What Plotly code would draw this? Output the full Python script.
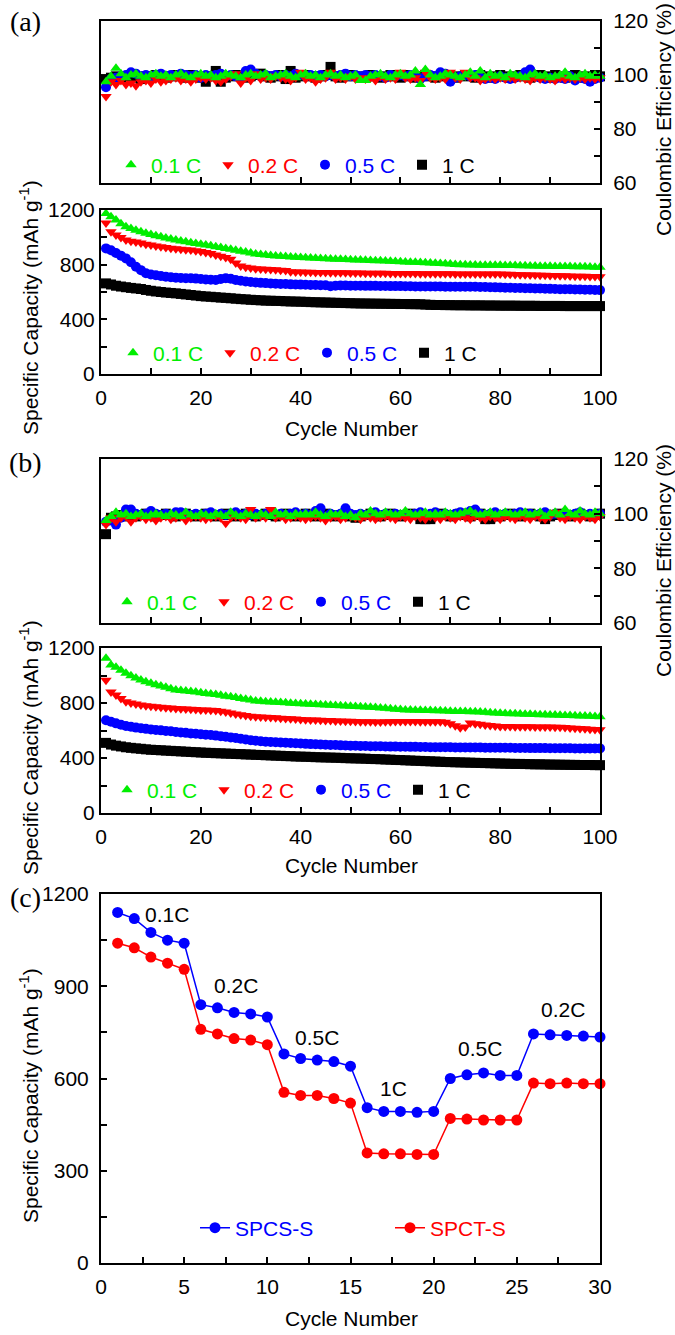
import plotly.graph_objects as go

# ---- data ----
cycles = list(range(1, 101))
cycles_rate = list(range(1, 31))

rates = ['0.1 C', '0.2 C', '0.5 C', '1 C']

# (a) coulombic efficiency (%)
ce_a_01 = [97.5, 99.5, 102.5, 100.5, 99.0, 100.0, 100.5, 99.5, 99.0, 100.0,
           100.5, 99.5, 100.0, 99.0, 100.0, 100.5, 99.5, 99.0, 100.0, 100.5,
           99.5, 100.0, 99.0, 99.5, 100.5, 100.0, 99.5, 99.0, 100.0, 100.5,
           99.5, 100.0, 100.5, 99.0, 99.5, 100.0, 100.5, 99.5, 99.0, 100.0,
           100.5, 99.5, 100.0, 99.0, 100.0, 100.5, 99.5, 100.0, 99.0, 99.5,
           100.0, 98.0, 98.0, 99.5, 100.0, 100.5, 99.5, 99.0, 100.0, 100.5,
           99.5, 100.0, 101.5, 96.5, 102.0, 100.0, 99.0, 99.5, 100.5, 100.0,
           99.5, 99.0, 100.0, 101.0, 99.5, 101.5, 99.0, 100.5, 99.5, 100.0,
           99.0, 100.5, 100.0, 99.5, 99.0, 100.0, 100.5, 99.5, 100.0, 99.0,
           99.5, 100.0, 101.0, 99.5, 99.0, 100.0, 100.5, 99.5, 100.0, 99.5]
ce_a_02 = [92.0, 97.5, 96.5, 98.0, 96.5, 97.0, 96.0, 97.5, 98.0, 97.0,
           98.5, 97.5, 98.0, 98.5, 99.0, 98.0, 98.5, 97.5, 98.5, 99.0,
           98.5, 99.0, 98.0, 97.5, 98.5, 99.5, 100.5, 97.0, 99.0, 98.0,
           100.5, 98.5, 99.0, 98.5, 99.5, 99.0, 98.5, 98.0, 99.0, 101.0,
           98.5, 99.0, 97.5, 98.5, 99.0, 101.0, 98.5, 99.0, 98.5, 99.5,
           98.5, 99.0, 98.5, 99.0, 98.0, 99.5, 98.5, 99.0, 98.5, 101.0,
           99.0, 98.5, 99.0, 98.0, 101.0, 99.0, 98.5, 99.0, 98.5, 101.0,
           99.0, 98.5, 101.0, 99.0, 99.0, 98.0, 98.5, 99.0, 98.5, 99.0,
           98.5, 99.0, 98.5, 99.0, 98.5, 98.0, 99.0, 98.5, 99.0, 98.5,
           98.0, 99.0, 98.5, 99.0, 98.5, 99.0, 98.5, 99.0, 98.5, 99.0]
ce_a_05 = [95.5, 98.5, 99.0, 99.5, 100.0, 101.0, 100.5, 99.5, 100.0, 99.5,
           100.0, 100.5, 99.5, 100.0, 99.5, 100.5, 100.0, 99.5, 100.0, 99.0,
           100.0, 99.5, 100.0, 100.5, 99.5, 100.0, 99.5, 98.5, 101.5, 102.0,
           100.5, 99.5, 100.0, 99.5, 100.0, 99.5, 100.0, 99.5, 100.5, 100.0,
           99.5, 100.0, 99.5, 100.0, 99.5, 100.0, 99.5, 100.0, 100.5, 99.5,
           100.0, 99.5, 100.0, 99.5, 100.0, 99.5, 99.0, 100.0, 99.5, 100.0,
           99.5, 100.0, 99.5, 98.5, 99.5, 100.0, 99.5, 101.0, 100.5, 97.5,
           99.0, 99.5, 100.0, 99.5, 100.0, 99.0, 98.5, 99.0, 98.5, 99.5,
           99.0, 98.5, 99.0, 99.5, 101.0, 102.0, 99.5, 99.0, 98.5, 99.0,
           98.5, 99.0, 98.5, 99.5, 98.0, 99.0, 98.5, 97.5, 98.5, 99.0]
ce_a_1 = [98.5, 99.0, 99.5, 99.0, 99.5, 100.0, 99.0, 98.5, 99.5, 99.0,
          100.0, 99.5, 99.0, 99.5, 100.0, 99.5, 99.0, 100.0, 99.5, 99.0,
          97.5, 99.5, 101.5, 97.5, 99.0, 99.5, 100.0, 99.5, 99.0, 99.5,
          100.0, 100.5, 99.5, 99.0, 99.5, 100.0, 98.5, 101.5, 99.0, 99.5,
          100.0, 99.5, 99.0, 99.5, 100.0, 103.0, 99.5, 99.0, 99.5, 100.0,
          99.5, 99.0, 99.5, 100.0, 99.5, 99.0, 99.5, 100.0, 99.5, 99.0,
          100.0, 99.5, 99.0, 99.5, 100.0, 99.5, 99.0, 99.5, 100.0, 99.5,
          99.0, 99.5, 100.0, 99.5, 99.0, 100.0, 99.5, 99.0, 99.5, 100.0,
          99.5, 99.0, 99.5, 100.0, 99.5, 99.0, 99.5, 100.0, 99.5, 99.0,
          100.0, 99.5, 99.0, 99.5, 100.0, 99.5, 99.0, 99.5, 100.0, 99.5]

# (a) specific capacity (mAh/g)
cap_a_01 = [1175, 1150, 1126, 1100, 1078, 1065, 1052, 1041, 1030, 1020,
            1012, 1004, 996, 988, 981, 974, 967, 960, 955, 949,
            943, 938, 932, 926, 919, 913, 906, 899, 892, 886,
            878, 874, 870, 867, 864, 861, 859, 857, 855, 853,
            851, 849, 847, 845, 843, 842, 840, 839, 838, 836,
            835, 834, 832, 831, 829, 828, 826, 825, 823, 821,
            820, 818, 817, 815, 814, 812, 810, 808, 806, 804,
            802, 800, 799, 797, 797, 796, 796, 795, 795, 795,
            794, 794, 793, 792, 792, 791, 790, 789, 789, 788,
            787, 787, 786, 786, 785, 784, 784, 783, 782, 781]
cap_a_02 = [1104, 1041, 1017, 998, 980, 972, 965, 958, 950, 943,
            936, 931, 926, 921, 917, 913, 910, 907, 902, 896,
            889, 882, 870, 862, 852, 840, 812, 790, 782, 776,
            771, 768, 766, 764, 762, 760, 758, 748, 747, 746,
            745, 744, 743, 742, 742, 741, 741, 740, 740, 739,
            739, 739, 738, 738, 737, 737, 737, 736, 736, 736,
            735, 735, 735, 734, 734, 734, 733, 733, 733, 733,
            732, 732, 732, 732, 732, 731, 731, 731, 731, 731,
            730, 729, 728, 727, 726, 725, 724, 723, 722, 721,
            720, 719, 718, 717, 716, 715, 715, 714, 713, 712]
cap_a_05 = [919, 905, 885, 866, 846, 818, 785, 760, 737, 728,
            722, 717, 712, 708, 705, 703, 701, 700, 698, 695,
            692, 690, 688, 695, 700, 697, 688, 682, 677, 673,
            670, 667, 665, 663, 661, 659, 658, 656, 655, 654,
            653, 652, 651, 650, 649, 642, 646, 647, 647, 646,
            646, 646, 645, 645, 645, 644, 644, 643, 643, 643,
            642, 642, 641, 641, 641, 640, 640, 640, 639, 639,
            639, 639, 639, 638, 638, 637, 636, 635, 634, 633,
            632, 631, 630, 629, 628, 627, 626, 625, 624, 623,
            622, 621, 620, 620, 619, 618, 617, 616, 615, 614]
cap_a_1 = [663, 655, 646, 640, 635, 630, 626, 622, 615, 609,
           604, 600, 596, 593, 590, 586, 582, 578, 574, 570,
           567, 565, 562, 559, 557, 554, 551, 548, 546, 543,
           541, 539, 537, 536, 535, 534, 532, 531, 530, 529,
           528, 526, 525, 524, 523, 522, 521, 520, 519, 518,
           517, 516, 516, 515, 515, 514, 514, 513, 513, 512,
           512, 511, 511, 510, 508, 506, 505, 505, 504, 504,
           503, 503, 503, 502, 502, 502, 501, 501, 501, 500,
           500, 500, 500, 499, 499, 499, 499, 498, 498, 498,
           498, 498, 497, 497, 497, 497, 497, 497, 497, 497]

# (b) coulombic efficiency (%)
ce_b_01 = [97.5, 99.0, 100.5, 99.5, 100.0, 99.0, 99.5, 100.0, 99.0, 99.5,
           100.0, 99.5, 99.0, 100.0, 99.5, 99.0, 100.5, 99.5, 99.0, 100.0,
           99.5, 99.0, 100.0, 99.5, 99.0, 100.5, 99.5, 99.0, 100.0, 99.5,
           99.0, 100.0, 99.5, 99.0, 100.5, 99.5, 100.0, 99.0, 100.0, 99.5,
           100.0, 99.5, 100.5, 99.5, 99.0, 100.0, 99.5, 100.0, 99.0, 99.5,
           98.5, 100.0, 99.5, 101.0, 100.0, 99.5, 100.5, 100.0, 99.5, 100.0,
           101.0, 100.0, 99.5, 100.0, 100.5, 99.5, 100.0, 99.5, 100.5, 100.0,
           99.5, 100.0, 100.5, 101.0, 100.0, 99.5, 100.0, 100.5, 99.5, 100.0,
           100.5, 100.0, 99.5, 100.0, 100.5, 99.5, 100.0, 100.5, 99.0, 100.0,
           100.5, 99.5, 101.5, 100.0, 99.5, 101.0, 100.0, 99.5, 100.5, 100.0]
ce_b_02 = [96.0, 98.5, 97.0, 98.5, 99.0, 97.0, 98.5, 99.0, 98.0, 98.5,
           97.5, 98.5, 99.0, 98.0, 98.5, 99.0, 97.5, 98.5, 99.0, 98.5,
           98.0, 98.5, 99.0, 98.5, 96.5, 98.5, 99.0, 98.5, 98.0, 101.5,
           98.5, 99.0, 98.5, 101.5, 98.5, 99.0, 98.0, 98.5, 99.0, 98.5,
           98.0, 98.5, 99.0, 98.5, 97.5, 98.5, 99.0, 98.0, 98.5, 99.0,
           98.5, 98.0, 99.0, 98.5, 98.0, 98.5, 99.0, 98.5, 98.0, 99.0,
           98.5, 98.0, 99.0, 98.5, 98.0, 99.0, 98.5, 98.0, 99.0, 98.5,
           98.0, 99.0, 98.5, 98.0, 99.0, 98.5, 98.0, 99.0, 98.5, 98.0,
           99.0, 98.5, 98.0, 99.0, 98.5, 98.0, 99.0, 98.5, 98.0, 99.0,
           100.5, 98.5, 98.0, 99.0, 98.5, 98.0, 99.0, 98.5, 98.0, 99.0]
ce_b_05 = [97.0, 97.5, 96.0, 98.5, 101.5, 101.5, 100.0, 99.5, 100.0, 101.0,
           100.0, 99.5, 100.0, 99.5, 100.5, 100.5, 100.0, 99.5, 100.0, 99.5,
           100.0, 100.5, 99.5, 100.0, 99.5, 100.0, 100.5, 99.5, 100.0, 99.5,
           100.0, 99.5, 100.0, 100.5, 99.5, 100.0, 99.5, 100.0, 100.5, 99.5,
           100.0, 99.5, 101.0, 102.0, 99.0, 100.0, 99.5, 100.0, 102.0, 100.0,
           99.5, 100.0, 99.5, 100.0, 100.5, 99.5, 100.0, 99.5, 100.0, 99.5,
           100.0, 99.5, 100.0, 100.5, 99.5, 100.0, 100.5, 99.5, 100.0, 99.5,
           100.0, 100.5, 99.5, 101.0, 101.5, 100.0, 99.5, 100.0, 100.5, 99.5,
           100.0, 99.5, 100.0, 100.5, 99.5, 100.0, 99.5, 100.0, 100.5, 99.5,
           100.0, 99.5, 100.0, 99.5, 100.0, 100.5, 99.5, 100.0, 99.5, 100.0]
ce_b_1 = [92.5, 98.5, 99.0, 99.5, 99.0, 99.5, 99.0, 99.5, 100.0, 99.5,
          99.0, 99.5, 100.0, 99.5, 99.0, 99.5, 100.0, 99.5, 99.0, 99.5,
          100.0, 99.5, 99.0, 99.5, 100.0, 99.5, 99.0, 99.5, 100.0, 99.5,
          99.0, 99.5, 100.0, 99.5, 99.0, 99.5, 100.0, 99.5, 99.0, 99.5,
          100.0, 99.5, 99.0, 99.5, 100.0, 99.5, 99.0, 99.5, 100.0, 99.0,
          98.5, 99.0, 99.5, 100.0, 99.5, 99.0, 99.5, 100.0, 99.5, 99.0,
          99.5, 100.0, 99.5, 98.0, 98.0, 98.0, 99.5, 100.0, 99.5, 99.0,
          99.5, 100.0, 99.5, 99.0, 99.5, 100.0, 98.0, 98.0, 99.5, 99.0,
          99.5, 100.0, 99.5, 99.0, 99.5, 100.0, 99.5, 99.0, 98.0, 99.0,
          99.5, 100.0, 99.5, 99.0, 99.5, 100.0, 99.5, 99.0, 99.5, 100.0]

# (b) specific capacity (mAh/g)
cap_b_01 = [1125, 1076, 1060, 1038, 1016, 998, 982, 967, 954, 943,
            933, 924, 914, 904, 895, 891, 887, 884, 880, 875,
            870, 866, 861, 856, 850, 845, 840, 833, 827, 821,
            815, 812, 809, 807, 805, 803, 801, 799, 797, 795,
            793, 791, 789, 787, 786, 784, 782, 780, 778, 776,
            775, 773, 771, 769, 767, 764, 761, 758, 755, 752,
            750, 749, 748, 747, 746, 745, 744, 743, 742, 740,
            739, 738, 738, 737, 736, 734, 732, 730, 728, 725,
            724, 722, 721, 720, 719, 718, 716, 715, 714, 713,
            712, 711, 710, 709, 708, 706, 705, 703, 702, 700]
cap_b_02 = [965, 880, 858, 832, 810, 800, 792, 785, 780, 776,
            772, 769, 766, 763, 760, 758, 756, 754, 752, 750,
            749, 748, 745, 740, 734, 727, 720, 714, 709, 704,
            700, 698, 696, 694, 692, 690, 688, 685, 683, 680,
            678, 677, 676, 674, 673, 672, 670, 669, 668, 667,
            666, 664, 663, 663, 662, 662, 663, 664, 665, 666,
            666, 665, 665, 664, 664, 664, 664, 664, 660, 650,
            635, 620, 625, 655, 650, 645, 640, 636, 633, 630,
            629, 629, 628, 628, 627, 627, 626, 626, 625, 625,
            624, 623, 621, 619, 617, 615, 613, 610, 608, 605]
cap_b_05 = [675, 664, 652, 642, 633, 627, 621, 616, 612, 608,
            604, 601, 597, 594, 590, 586, 583, 579, 576, 573,
            570, 567, 563, 559, 555, 550, 545, 540, 535, 530,
            525, 522, 519, 517, 515, 513, 511, 509, 507, 505,
            503, 501, 500, 498, 497, 495, 494, 492, 491, 490,
            489, 488, 487, 486, 485, 485, 484, 483, 483, 482,
            482, 481, 481, 480, 480, 479, 479, 478, 478, 478,
            477, 477, 477, 476, 476, 476, 475, 475, 475, 474,
            474, 474, 473, 473, 473, 472, 472, 472, 472, 471,
            471, 471, 471, 471, 470, 470, 470, 470, 470, 470]
cap_b_1 = [510, 498, 490, 484, 478, 474, 470, 467, 463, 460,
           458, 456, 454, 452, 450, 448, 446, 444, 442, 440,
           438, 437, 435, 434, 432, 431, 429, 428, 426, 425,
           423, 422, 420, 419, 417, 416, 414, 413, 411, 410,
           409, 408, 406, 405, 404, 403, 402, 401, 399, 398,
           397, 396, 395, 393, 392, 391, 389, 388, 386, 385,
           383, 382, 380, 379, 377, 376, 374, 373, 371, 370,
           369, 368, 367, 366, 365, 364, 363, 362, 361, 360,
           359, 358, 357, 357, 356, 355, 354, 354, 353, 352,
           352, 351, 351, 350, 350, 349, 349, 349, 348, 348]

# (c) rate capability
spcs_s = [1140, 1120, 1075, 1050, 1040, 840, 830, 815, 810, 800,
          680, 665, 660, 655, 640, 505, 493, 493, 490, 493,
          600, 612, 618, 610, 610, 745, 742, 740, 738, 735]
spct_s = [1040, 1025, 995, 975, 955, 760, 745, 730, 725, 710,
          555, 545, 545, 535, 520, 358, 355, 355, 353, 353,
          470, 468, 465, 465, 465, 585, 583, 585, 583, 583]
rate_labels = ['0.1C', '0.2C', '0.5C', '1C', '0.5C', '0.2C']
rate_label_x = [3.97, 8.1, 13.0, 17.6, 22.8, 27.8]
rate_label_y = [1132, 904, 732, 569, 699, 823]

# ---- styling ----
W, H = 675, 1335
FONT = 'Liberation Sans, Arial, sans-serif'
SERIF = 'Liberation Serif, Times New Roman, serif'
FS = 21
colors = {'0.1 C': '#00ee00', '0.2 C': '#ff0000', '0.5 C': '#0000ff', '1 C': '#000000'}
symbols = {'0.1 C': 'triangle-up', '0.2 C': 'triangle-down', '0.5 C': 'circle', '1 C': 'square'}

X0, X1 = 101 / W, 600 / W


def ydom(top, bottom):
    return [1 - bottom / H, 1 - top / H]


def px(v):
    return v / W


def py(v):
    return 1 - v / H


fig = go.Figure()

panels = [
    ('', 'y', [ce_a_01, ce_a_02, ce_a_05, ce_a_1], 'legend'),
    ('2', 'y2', [cap_a_01, cap_a_02, cap_a_05, cap_a_1], 'legend2'),
    ('3', 'y3', [ce_b_01, ce_b_02, ce_b_05, ce_b_1], 'legend3'),
    ('4', 'y4', [cap_b_01, cap_b_02, cap_b_05, cap_b_1], 'legend4'),
]
for suffix, yname, series, leg in panels:
    # draw 1 C first so green ends up on top
    for rank in [3, 2, 1, 0]:
        r = rates[rank]
        fig.add_trace(go.Scatter(
            x=cycles, y=series[rank], mode='markers', name=f'<span style="color:{colors[r]}">{r}</span>',
            marker=dict(symbol=symbols[r], size=10, color=colors[r], line=dict(width=0)),
            xaxis='x' + suffix, yaxis=yname, legend=leg, legendrank=rank, cliponaxis=False))

fig.add_trace(go.Scatter(x=cycles_rate, y=spcs_s, mode='lines+markers', name='<span style="color:#0000ff">SPCS-S</span>',
                         line=dict(color='#0000ff', width=1.5), marker=dict(size=11, color='#0000ff'),
                         xaxis='x5', yaxis='y5', legend='legend5', cliponaxis=False))
fig.add_trace(go.Scatter(x=cycles_rate, y=spct_s, mode='lines+markers', name='<span style="color:#ff0000">SPCT-S</span>',
                         line=dict(color='#ff0000', width=1.5), marker=dict(size=11, color='#ff0000'),
                         xaxis='x5', yaxis='y5', legend='legend5', cliponaxis=False))

tickfont = dict(family=FONT, size=FS, color='black')
base = dict(showline=True, linewidth=2, linecolor='black', mirror=True, showgrid=False, zeroline=False,
            ticks='inside', ticklen=6, tickwidth=1.5, tickcolor='black', tickfont=tickfont, automargin=False)


def xax(anchor, rng, dtick, minor, labels):
    return dict(base, domain=[X0, X1], anchor=anchor, range=rng, dtick=dtick, tick0=0,
                minor=dict(ticks='inside', ticklen=6, tickwidth=1.5, tickcolor='black', dtick=minor),
                showticklabels=labels, ticklabelstandoff=4)


def yax(anchor, top, bottom, rng, dtick, minor, side='left', standoff=0):
    return dict(base, domain=ydom(top, bottom), anchor=anchor, range=rng, dtick=dtick, tick0=rng[0],
                side=side, ticklabelstandoff=standoff,
                minor=dict(ticks='inside', ticklen=6, tickwidth=1.5, tickcolor='black', dtick=minor))


layout = dict(
    template='none',
    width=W, height=H, autosize=False, margin=dict(l=0, r=0, t=0, b=0, autoexpand=False),
    paper_bgcolor='white', plot_bgcolor='white', font=dict(family=FONT, size=FS, color='black'),
    xaxis=xax('y', [0, 100], 10, 10, False),
    yaxis=yax('x', 21, 183, [60, 120], 20, 10, side='right', standoff=7),
    xaxis2=xax('y2', [0, 100], 20, 10, True),
    yaxis2=yax('x2', 210, 374, [0, 1200], 400, 200),
    xaxis3=xax('y3', [0, 100], 10, 10, False),
    yaxis3=yax('x3', 459, 623, [60, 120], 20, 10, side='right', standoff=7),
    xaxis4=xax('y4', [0, 100], 20, 10, True),
    yaxis4=yax('x4', 648, 813, [0, 1200], 400, 200),
    xaxis5=xax('y5', [0, 30], 5, 2.5, True),
    yaxis5=yax('x5', 894, 1263, [0, 1200], 300, 150, standoff=6),
)

legend_pos = {'legend': (111, 165), 'legend2': (113, 353), 'legend3': (107, 602), 'legend4': (107, 790)}
for name, (lx, ly) in legend_pos.items():
    layout[name] = dict(orientation='h', x=px(lx), y=py(ly), xanchor='left', yanchor='middle',
                        bgcolor='rgba(0,0,0,0)', font=dict(family=FONT, size=FS),
                        entrywidth=52, entrywidthmode='pixels', traceorder='normal')
layout['legend5'] = dict(orientation='h', x=px(195), y=py(1228), xanchor='left', yanchor='middle',
                         bgcolor='rgba(0,0,0,0)', font=dict(family=FONT, size=FS),
                         entrywidth=150, entrywidthmode='pixels')
fig.update_layout(**layout)

ann = []


def note(text, x, y, size=FS, family=FONT, angle=0, xref='paper', yref='paper'):
    ann.append(dict(text=text, x=x, y=y, xref=xref, yref=yref, showarrow=False, textangle=angle,
                    xanchor='center', yanchor='middle', font=dict(family=family, size=size, color='black')))


for lbl, ly in [('(a)', 22), ('(b)', 462), ('(c)', 897)]:
    note(lbl, px(25), py(ly), size=28, family=SERIF)
for cy in [428, 865, 1318]:
    note('Cycle Number', px(351), py(cy))
for cy in [308, 748, 1096]:
    note('Specific Capacity (mAh g<sup>-1</sup>)', px(29), py(cy), angle=-90)
for cy in [120, 561]:
    note('Coulombic Efficiency (%)', px(663), py(cy), angle=-90)
for t, xv, yv in zip(rate_labels, rate_label_x, rate_label_y):
    note(t, xv, yv, xref='x5', yref='y5')
fig.update_layout(annotations=ann)

# the page's default body margin would shift the figure by 8 px
fig.write_html('out.html', config={'displayModeBar': False},
               post_script="document.body.style.margin='0';")
